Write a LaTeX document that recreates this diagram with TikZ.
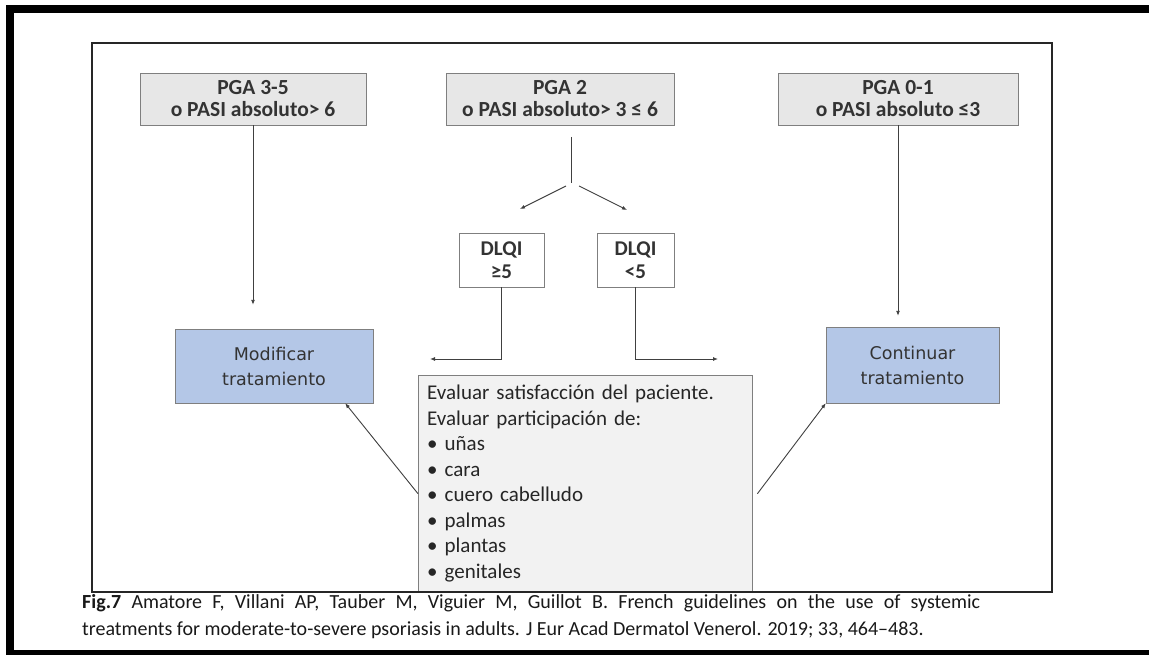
\documentclass[tikz,border=0pt]{standalone}
\usepackage{fontspec}
\setmainfont{Carlito}
\newfontfamily\treatfont{DejaVu Sans}
\usetikzlibrary{arrows.meta}
\definecolor{pgafill}{HTML}{E7E7E7}
\definecolor{evalfill}{HTML}{F2F2F2}
\definecolor{treatblue}{HTML}{B4C7E7}
\definecolor{edgegray}{HTML}{7F7F7F}
\definecolor{linegray}{HTML}{404040}
\definecolor{textgray}{HTML}{333333}

\begin{document}
\begin{tikzpicture}[x=1pt,y=-1pt,
	pga/.style={draw=edgegray,fill=pgafill,minimum height=52pt,inner sep=0pt,align=center,text=textgray,font=\fontsize{21.5}{22}\selectfont\bfseries},
	dlqi/.style={draw=edgegray,fill=white,minimum height=54pt,inner sep=0pt,align=center,text=textgray,font=\fontsize{21}{23}\selectfont\bfseries},
	treat/.style={draw=edgegray,fill=treatblue,inner sep=0pt,align=center,text=textgray,font=\treatfont\fontsize{17.5}{25}\selectfont},
	link/.style={draw=linegray,line width=0.9pt},
	arr/.style={link,-{Latex[length=5pt,width=4pt]}}]
	\useasboundingbox (0,0) rectangle (1149,655);
	\fill[white] (0,0) rectangle (1149,655);
	% top row
	\node[pga,minimum width=226pt] (pga35) at (253,99) {PGA 3-5\\o PASI absoluto> 6};
	\node[pga,minimum width=228pt] (pga2) at (560,99) {PGA 2\\o PASI absoluto> 3 ≤ 6};
	\node[pga,minimum width=240pt] (pga01) at (898,99) {PGA 0-1\\o PASI absoluto ≤3};
	% DLQI split
	\node[dlqi,minimum width=85pt] (dlqihi) at (501.5,260) {DLQI\\≥5};
	\node[dlqi,minimum width=77pt] (dlqilo) at (635.5,260) {DLQI\\<5};
	\coordinate (forktop) at (571,137);
	\coordinate (fork) at (571,183);
	\coordinate (tiphi) at (520,209);
	\coordinate (tiplo) at (627,210);
	\coordinate (endhi) at (430,359);
	\coordinate (endlo) at (718,359);
	% outcomes
	\node[treat,minimum width=198pt,minimum height=74pt] (modif) at (274,366) {Modificar\\tratamiento};
	\node[treat,minimum width=173pt,minimum height=76pt] (contin) at (912.5,365) {Continuar\\tratamiento};
	\node[draw=edgegray,fill=evalfill,anchor=north west,inner xsep=9pt,inner ysep=0pt,text width=316pt,minimum height=217pt,align=left,text=black!85,font=\fontsize{21}{25.5}\selectfont] (evaluar) at (418,375)
		{Evaluar satisfacción del paciente.\\Evaluar participación de:\\\textbullet\ uñas\\\textbullet\ cara\\\textbullet\ cuero cabelludo\\\textbullet\ palmas\\\textbullet\ plantas\\\textbullet\ genitales};
	% connectors
	\draw[arr,shorten >=24pt] (pga35.south) -- (pga35.south |- modif.north);
	\draw[arr,shorten >=11pt] (pga01.south) -- (pga01.south |- contin.north);
	\draw[link] (forktop) -- (fork);
	\draw[arr] ([shift={(-5,3)}]fork) -- (tiphi);
	\draw[arr] ([shift={(8,3)}]fork) -- (tiplo);
	\draw[arr] (dlqihi.south) |- (endhi);
	\draw[arr] (dlqilo.south) |- (endlo);
	\draw[arr] ([yshift=-10pt]evaluar.west) -- ([xshift=-28pt]modif.south east);
	\draw[arr] ([shift={(5,10)}]evaluar.east) -- (contin.south west);
	% frames
	\draw[line width=2pt,draw=black!85] (92,43) rectangle (1052,592);
	\draw[line width=8pt] (10,9) rectangle (1175,654);
	\node[anchor=north west,text width=898pt,align=justify,inner sep=0pt,text=black!90,font=\fontsize{20}{27}\selectfont] (caption) at (82,594)
		{\textbf{Fig.7} Amatore F, Villani AP, Tauber M, Viguier M, Guillot B. French guidelines on the use of systemic\linebreak treatments for moderate-to-severe psoriasis in adults. J Eur Acad Dermatol Venerol. 2019; 33, 464--483.};
\end{tikzpicture}
\end{document}
